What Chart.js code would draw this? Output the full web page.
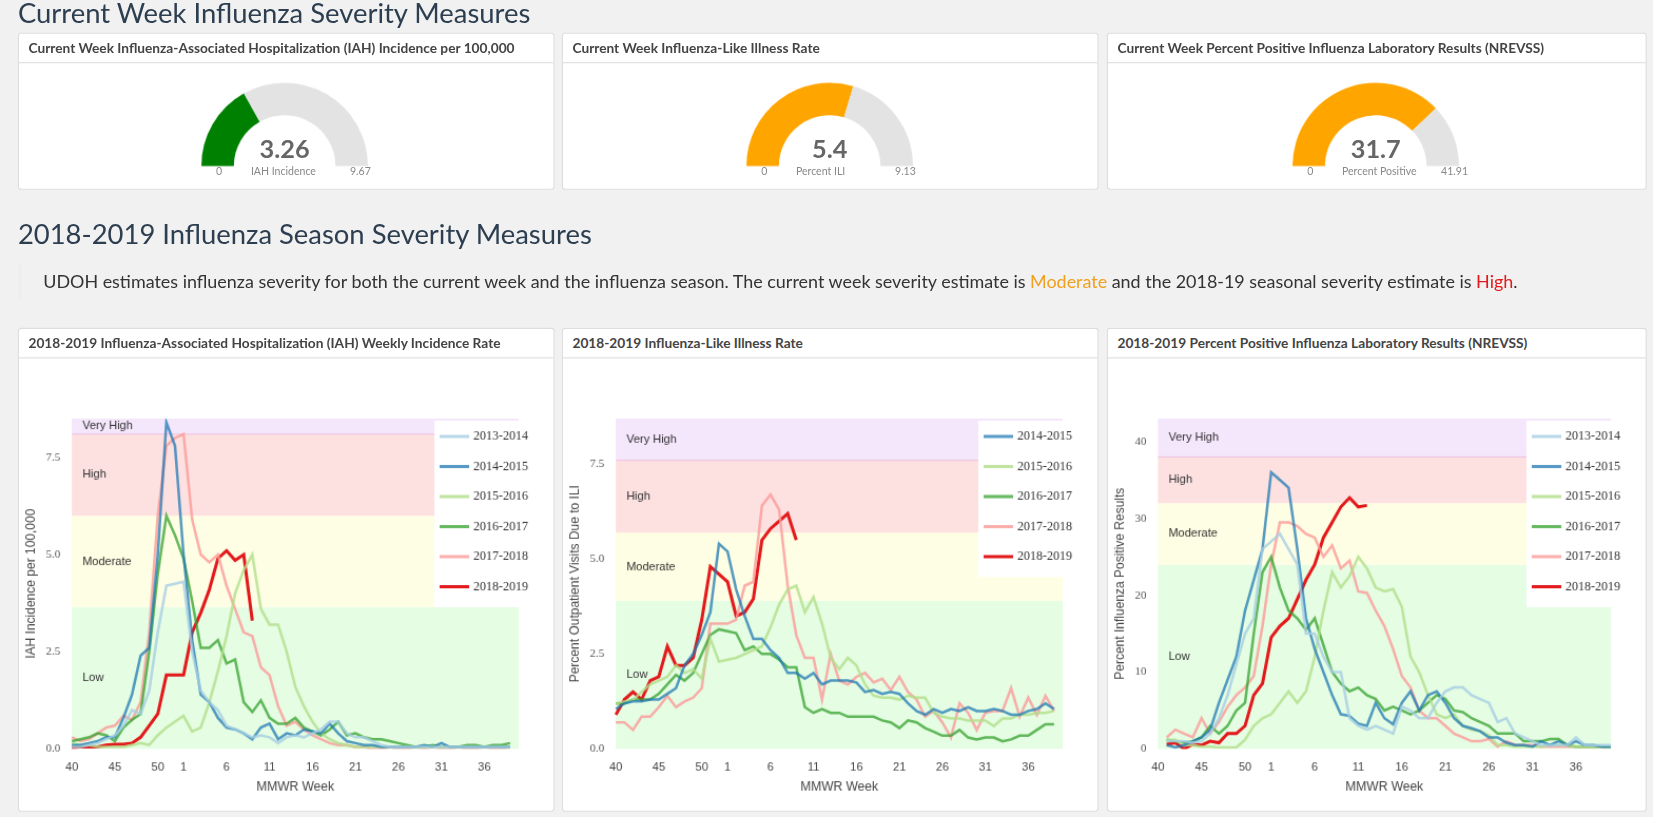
<!DOCTYPE html>
<html>
<head>
<meta charset="utf-8">
<script src="https://cdn.jsdelivr.net/npm/chart.js@4/dist/chart.umd.min.js"></script>
<style>
  body { margin: 0; background: #f1f1f1; font-family: Lato, "Open Sans", sans-serif; color: #333; width: 1653px; height: 817px; overflow: hidden; }
  #page { position: absolute; left: 0; top: 0; width: 1568px; height: 775px; transform: scale(1.0542); transform-origin: 0 0; }
  h2 { position: absolute; margin: 0; font-weight: 400; font-size: 26px; color: #2c3e50; left: 17px; }
  .panel { position: absolute; background: #fff; border: 1px solid #ddd; border-radius: 3px; }
  .panel .hd { height: 27px; line-height: 27px; border-bottom: 1px solid #ddd; padding-left: 9px; font-size: 13px; font-weight: 700; color: #444; }
  .gauge { position: absolute; }
  .gval { position: absolute; width: 120px; text-align: center; font-size: 24px; font-weight: 700; color: #666; }
  .glab { position: absolute; font-size: 10px; color: #888; }
  .note { position: absolute; left: 17px; top: 250px; height: 34px; border-left: 4px solid #eee; padding-left: 20px; line-height: 34px; font-size: 17px; color: #333; }
</style>
</head>
<body>
<div id="page">
<h2 style="top:-4px">Current Week Influenza Severity Measures</h2>
<h2 style="top:205px">2018-2019 Influenza Season Severity Measures</h2>
<div class="note">UDOH estimates influenza severity for both the current week and the influenza season. The current week severity estimate is <span style="color:#f0a020">Moderate</span> and the 2018-19 seasonal severity estimate is <span style="color:#e31a1c">High</span>.</div>

<div class="panel" style="left:17px;top:31px;width:507px;height:147px"><div class="hd">Current Week Influenza-Associated Hospitalization (IAH) Incidence per 100,000</div></div>
<div class="panel" style="left:533px;top:31px;width:507px;height:147px"><div class="hd">Current Week Influenza-Like Illness Rate</div></div>
<div class="panel" style="left:1050px;top:31px;width:510px;height:147px"><div class="hd">Current Week Percent Positive Influenza Laboratory Results (NREVSS)</div></div>

<div class="panel" style="left:17px;top:311px;width:507px;height:457px"><div class="hd">2018-2019 Influenza-Associated Hospitalization (IAH) Weekly Incidence Rate</div><canvas id="c1" width="507" height="428"></canvas></div>
<div class="panel" style="left:533px;top:311px;width:507px;height:457px"><div class="hd">2018-2019 Influenza-Like Illness Rate</div><canvas id="c2" width="507" height="428"></canvas></div>
<div class="panel" style="left:1050px;top:311px;width:510px;height:457px"><div class="hd">2018-2019 Percent Positive Influenza Laboratory Results (NREVSS)</div><canvas id="c3" width="510" height="428"></canvas></div>
</div>

<script>
// gauges
const gaugeValues = [3.26, 5.4, 31.7];
const gaugeMax = [9.67, 9.13, 41.91];
const gaugeNames = ['IAH Incidence', 'Percent ILI', 'Percent Positive'];
const gaugeColors = ['#008000', '#ffa500', '#ffa500'];
const gaugeCenters = [270, 787, 1305];

// weekly series
const weeks = [40,41,42,43,44,45,46,47,48,49,50,51,52,1,2,3,4,5,6,7,8,9,10,11,12,13,14,15,16,17,18,19,20,21,22,23,24,25,26,27,28,29,30,31,32,33,34,35,36,37,38,39,40];
const weekTicks = [40,45,50,1,6,11,16,21,26,31,36];
const seasons = ['2013-2014','2014-2015','2015-2016','2016-2017','2017-2018','2018-2019'];
const seasonColors = ['rgba(166,206,227,0.8)','rgba(31,120,180,0.75)','rgba(178,223,138,0.8)','rgba(51,160,44,0.75)','rgba(251,154,153,0.8)','rgba(227,26,28,1)'];

const iah1314 = [0.05,0.05,0.1,0.15,0.25,0.35,0.6,1.0,0.9,1.5,3.0,4.2,4.25,4.3,2.5,1.5,1.2,1.0,0.6,0.5,0.4,0.3,0.35,0.3,0.15,0.3,0.35,0.3,0.4,0.5,0.7,0.7,0.4,0.3,0.3,0.2,0.1,0.05,0.05,0.05,0.05,0.05,0.05,0.05,0.05,0.05,0.05,0.05,0.05,0.05,0.05,0.05];
const iah1415 = [0.1,0.1,0.15,0.2,0.3,0.3,0.8,1.4,2.4,2.6,5.0,8.4,7.8,5.0,2.8,1.4,1.2,0.8,0.55,0.5,0.4,0.25,0.55,0.65,0.25,0.4,0.35,0.5,0.45,0.4,0.65,0.4,0.2,0.15,0.1,0.1,0.05,0.05,0.05,0.05,0.05,0.1,0.05,0.15,0.05,0.05,0.05,0.05,0.05,0.05,0.05,0.05];
const iah1516 = [0.15,0.1,0.1,0.05,0.05,0.05,0.05,0.1,0.15,0.1,0.35,0.55,0.7,0.85,0.45,0.55,1.2,2.0,2.9,4.0,4.6,5.0,3.6,3.2,3.2,2.5,1.6,1.1,0.7,0.4,0.25,0.15,0.1,0.05,0.05,0.05,0.05,0.05,0.05,0.05,0.05,0.05,0.05,0.05,0.05,0.05,0.05,0.05,0.05,0.05,0.05,0.05];
const iah1617 = [0.2,0.25,0.3,0.4,0.35,0.2,0.55,0.75,0.9,2.5,4.5,6.0,5.5,4.9,3.8,2.6,2.6,2.8,2.2,2.3,1.2,0.95,1.25,0.8,0.65,0.65,0.8,0.55,0.45,0.35,0.5,0.7,0.35,0.4,0.3,0.25,0.25,0.2,0.15,0.1,0.05,0.05,0.1,0.05,0.05,0.05,0.1,0.1,0.05,0.1,0.1,0.15];
const iah1718 = [0.3,0.2,0.25,0.4,0.55,0.6,0.85,0.75,1.2,3.0,6.0,7.8,8.0,8.1,5.9,5.0,4.8,5.0,4.2,3.6,3.0,2.9,2.1,1.9,1.1,0.6,0.7,0.5,0.35,0.25,0.15,0.1,0.1,0.05,0.05,0.0,0.0,0.05,0.0,0.0,0.05,0.0,0.05,0.0,0.0,0.05,0.0,0.0,0.05,0.0,0.0,0.05];
const iah1819 = [0.03,0.05,0.05,0.05,0.1,0.12,0.12,0.15,0.3,0.6,0.9,1.9,1.9,1.9,3.0,3.5,4.1,4.9,5.1,4.85,5.0,3.3];

const ili1415 = [1.05,1.2,1.25,1.25,1.3,1.3,1.45,1.6,2.2,2.5,3.0,3.6,5.4,5.2,4.2,3.5,2.9,2.9,2.6,2.4,2.0,2.0,1.85,2.0,1.7,1.8,1.8,1.8,1.75,1.5,1.55,1.45,1.5,1.45,1.2,1.0,0.9,1.05,0.95,1.05,1.0,1.1,1.0,1.0,1.05,1.0,0.9,0.9,1.0,1.05,1.2,1.05];
const ili1516 = [1.2,1.25,1.3,1.5,1.7,1.8,1.9,2.2,2.0,2.1,1.85,2.9,2.3,2.35,2.4,2.5,2.6,2.7,3.2,3.8,4.2,4.3,3.6,4.0,3.3,2.4,2.1,2.4,2.2,1.7,1.4,1.35,1.35,1.3,1.4,1.35,1.35,0.95,0.85,0.8,0.8,0.75,0.75,0.75,0.6,0.8,0.8,0.9,0.9,0.95,0.95,1.0];
const ili1617 = [1.2,1.2,1.3,1.3,1.3,1.45,1.7,1.95,1.8,2.0,2.5,3.0,3.15,3.1,3.05,2.6,2.7,2.5,2.5,2.35,2.15,2.15,1.1,0.95,1.05,0.95,0.95,0.85,0.85,0.85,0.85,0.75,0.7,0.55,0.75,0.7,0.55,0.45,0.35,0.35,0.5,0.3,0.25,0.3,0.3,0.2,0.25,0.35,0.35,0.5,0.65,0.65];
const ili1718 = [0.7,0.7,0.5,0.85,0.85,1.1,1.4,1.1,1.25,1.35,1.6,3.3,3.3,3.3,3.4,4.3,4.4,6.4,6.7,6.3,4.3,3.0,2.4,2.4,1.3,2.5,1.8,1.7,1.9,2.0,1.75,1.85,1.55,1.9,1.5,1.3,0.85,1.0,0.7,0.3,1.2,0.95,0.5,0.95,1.0,1.0,1.6,0.85,1.35,0.9,1.4,1.0];
const ili1819 = [0.9,1.3,1.5,1.3,1.8,1.9,2.7,2.2,2.2,2.4,3.4,4.8,4.6,4.4,3.5,3.6,3.95,5.5,5.8,6.0,6.2,5.5];

const pos1314 = [null,1,1,1,0.8,1,2,4,7,11,15,17,26,27,28,26,24,15,15,12,10,10,4,3,2.5,3,2.5,2,5.5,5,4,4,6,7.5,8,8,7,6.5,6,3.5,4,2,1.5,1,0.5,0.5,0.5,0.5,1.5,0.5,0.5,0.5,0.5];
const pos1415 = [null,0.5,0.2,0.5,1,1.5,2.5,6,9,12,18,22,26,36,35,34,26,17,13,10,7,4.5,4.3,3.3,3.0,6,4,3.2,6,7.5,5,7,7.5,6,4,3,2.7,2.3,1.5,1.5,0.8,0.5,0.5,0.3,1,0.5,1,0.5,1,0.5,0.5,0.3,0.3];
const pos1516 = [null,1.2,1.2,0.5,0.5,0.3,0.3,0.2,0.2,0.2,1.2,3,4,4.5,6,7.5,6,7.5,12,18,23,21,22.5,25,23.5,21,20.5,20.8,18.5,12,10,7,4.5,4,4.5,3,2.5,2.3,1.8,0.5,0.5,0.3,0.3,0.3,0.3,0.5,0.5,0.5,0.3,0.3,0.3,0.3,0.3];
const pos1617 = [null,1.2,1,0.8,1,1.5,3,2,3,5,6,15,23,25,21,18,17,15.5,17,13.5,10,8.5,7.5,8,7,6.5,5,5.5,5,4.5,5,6,7,6.5,5,4.8,4,3.5,3,2,2,2,1,1,1,1.3,1.3,0.5,0.3,0.3,0.3,0.3,0.3];
const pos1718 = [null,1.5,2.5,2,1.5,4,2,3.5,5.5,7,8,9.5,16,24,29.5,29.5,29,28,27.5,25,26.5,23.5,24.5,20.5,20.3,18,16,13,9.5,8,5,4,4,3,2,1.5,1,1,1.3,0.3,1,0.5,0.5,0.5,0.3,0.3,0.3,0.3,0.3,0.3,0.3,0.3,0.3];
const pos1819 = [null,0.6,0.8,0,0.6,0.5,1,0.8,2,2,3,7,8.5,14.5,16,17,19.5,22,24,27.5,29.5,31.5,32.7,31.5,31.7];

// severity thresholds [low top, moderate top, high top, axis max]
const iahBands = [3.65, 6.0, 8.1, 8.5];
const iliBands = [3.9, 5.7, 7.6, 8.7];
const posBands = [24, 32, 38, 43];
const bandNames = ['Low', 'Moderate', 'High', 'Very High'];
const bandColors = ['#e5fde3', '#fefee4', '#fde1e1', '#f4e6fb'];

const page = document.getElementById('page');

// gauges
gaugeValues.forEach((v, i) => {
  const cx = gaugeCenters[i];
  const cv = document.createElement('canvas');
  cv.width = 170; cv.height = 90;
  cv.className = 'gauge';
  cv.style.left = (cx - 85) + 'px';
  cv.style.top = '70px';
  page.appendChild(cv);
  new Chart(cv, {
    type: 'doughnut',
    data: { datasets: [{ data: [v, gaugeMax[i] - v], backgroundColor: [gaugeColors[i], '#e3e3e3'], borderWidth: 0 }] },
    options: { responsive: false, animation: false, circumference: 180, rotation: -90, cutout: '61%',
      plugins: { legend: { display: false }, tooltip: { enabled: false } },
      layout: { padding: { left: 6, right: 6, top: 6, bottom: 0 } } }
  });
  const val = document.createElement('div');
  val.className = 'gval'; val.textContent = v;
  val.style.left = (cx - 60) + 'px'; val.style.top = '126px';
  page.appendChild(val);
  [['0', cx - 65], [gaugeNames[i], cx - 32], [String(gaugeMax[i]), cx + 62]].forEach(([t, x]) => {
    const l = document.createElement('div');
    l.className = 'glab'; l.textContent = t;
    l.style.left = x + 'px'; l.style.top = '156px';
    page.appendChild(l);
  });
});

const bandPlugin = {
  id: 'bands',
  beforeDatasetsDraw(chart, args, opts) {
    const { ctx, chartArea: a, scales: { y } } = chart;
    let lo = 0;
    ctx.save();
    opts.bands.forEach((top, k) => {
      const y1 = y.getPixelForValue(lo), y2 = y.getPixelForValue(top);
      ctx.fillStyle = bandColors[k];
      ctx.fillRect(a.left, y2, a.right - a.left, y1 - y2);
      ctx.fillStyle = '#333';
      ctx.font = '11px "Liberation Sans", Arial';
      ctx.textBaseline = 'middle';
      ctx.fillText(bandNames[k], a.left + 10, (y1 + y2) / 2);
      lo = top;
    });
    ctx.strokeStyle = '#f0c0e0';
    ctx.beginPath();
    const yv = y.getPixelForValue(opts.bands[2]);
    ctx.moveTo(a.left, yv); ctx.lineTo(a.right, yv); ctx.stroke();
    ctx.restore();
  },
  afterDatasetsDraw(chart) {
    const { ctx, chartArea: a } = chart;
    const ds = chart.data.datasets;
    const w = 80, h = 28.5 * ds.length + 6;
    ctx.save();
    ctx.fillStyle = '#fff';
    ctx.fillRect(a.right - w, a.top + 2, w, h);
    ctx.font = '12px "Liberation Serif", serif';
    ctx.textBaseline = 'middle';
    ds.forEach((d, k) => {
      const yy = a.top + 17 + k * 28.5;
      ctx.strokeStyle = d.borderColor; ctx.lineWidth = 3;
      ctx.beginPath(); ctx.moveTo(a.right - w + 5, yy); ctx.lineTo(a.right - w + 33, yy); ctx.stroke();
      ctx.fillStyle = '#333';
      ctx.fillText(d.label, a.right - w + 37, yy);
    });
    ctx.restore();
  }
};

function lineChart(id, series, names, bands, yTitle, yStep, yDec) {
  new Chart(document.getElementById(id), {
    type: 'line',
    data: {
      labels: weeks,
      datasets: series.map((s, k) => {
        const idx = seasons.indexOf(names[k]);
        return { label: names[k], data: s, borderColor: seasonColors[idx], borderWidth: idx === 5 ? 3 : 2.5,
          pointRadius: 0, tension: 0, fill: false };
      })
    },
    options: {
      responsive: false, animation: false,
      layout: { padding: { top: 57, right: 33, bottom: 10 } },
      plugins: { legend: { display: false }, tooltip: { enabled: false }, bands: { bands } },
      scales: {
        x: { grid: { display: false }, border: { display: false },
          ticks: { autoSkip: false, maxRotation: 0, color: '#444', font: { size: 11 },
            callback: (v, i) => weekTicks.includes(weeks[i]) && i < 52 ? String(weeks[i]) : '' },
          title: { display: true, text: 'MMWR Week', color: '#444', font: { size: 12 }, padding: { top: 2 } } },
        y: { min: 0, max: bands[3], grid: { display: false }, border: { display: false },
          afterBuildTicks: ax => { ax.ticks = []; for (let t = 0; t <= bands[3]; t += yStep) ax.ticks.push({ value: t }); },
          ticks: { color: '#555', font: { family: '"Liberation Serif", serif', size: 11 }, callback: v => v.toFixed(yDec) },
          title: { display: true, text: yTitle, color: '#444', font: { size: 12 } } }
      }
    },
    plugins: [bandPlugin]
  });
}

lineChart('c1', [iah1314, iah1415, iah1516, iah1617, iah1718, iah1819], seasons, iahBands, 'IAH Incidence per 100,000', 2.5, 1);
lineChart('c2', [ili1415, ili1516, ili1617, ili1718, ili1819], seasons.slice(1), iliBands, 'Percent Outpatient Visits Due to ILI', 2.5, 1);
lineChart('c3', [pos1314, pos1415, pos1516, pos1617, pos1718, pos1819], seasons, posBands, 'Percent Influenza Positive Results', 10, 0);
</script>
</body>
</html>
